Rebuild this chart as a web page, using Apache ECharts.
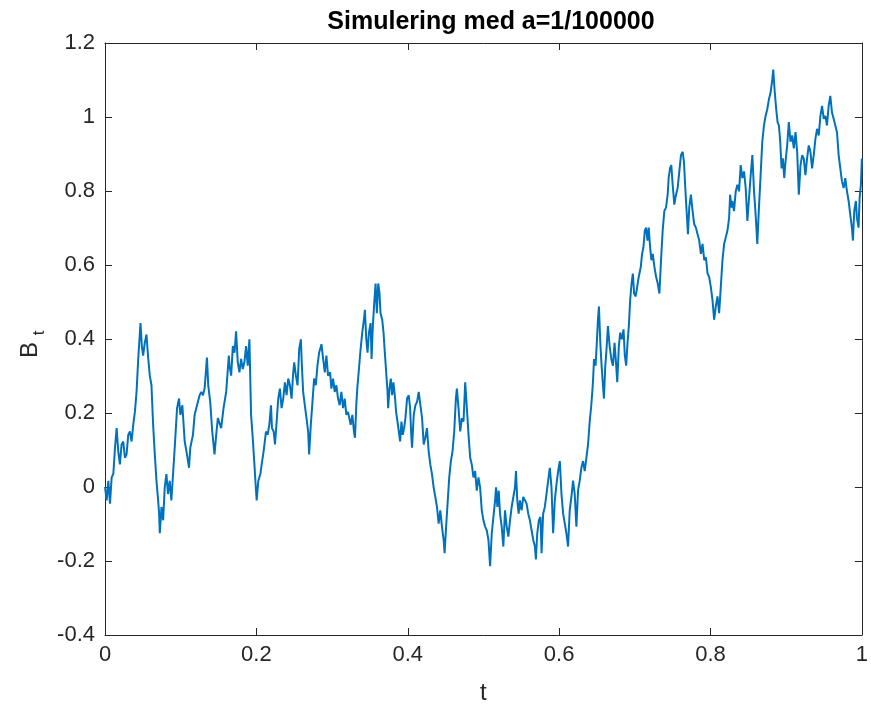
<!DOCTYPE html>
<html>
<head>
<meta charset="utf-8">
<script src="https://cdn.jsdelivr.net/npm/echarts@6/dist/echarts.min.js"></script>
<style>
html,body{margin:0;padding:0;background:#fff;}
#chart{width:871px;height:710px;}
</style>
</head>
<body>
<div id="chart"></div>
<script>
// Sample path (t, B_t)
const seg1 = [[0,0],[.0022,-.036],[.0044,.017],[.0066,-.045],[.0088,.026],[.011,.035],[.0132,.106],[.0154,.159],[.0175,.097],[.0197,.061],[.0219,.115],[.0241,.123],[.0263,.079],[.0285,.088],[.0307,.141],[.0329,.15],[.0351,.123],[.0373,.168],[.0395,.203],[.0417,.257],[.0439,.346],[.0469,.443],[.0487,.381],[.0504,.355],[.0526,.39],[.0548,.412],[.057,.35],[.0592,.301],[.0614,.275],[.0636,.168],[.0658,.088],[.068,.017],[.0702,-.036],[.0715,-.072],[.0724,-.125],[.0746,-.054],[.0768,-.09],[.0789,-.001],[.0811,.035],[.0833,-.019],[.0855,.017],[.0877,-.036],[.0899,.035],[.0921,.106],[.0952,.213],[.0978,.239],[.0996,.195],[.1022,.221],[.1053,.123],[.1083,.088],[.111,.052],[.1127,.106],[.1162,.141],[.1184,.195],[.1206,.213],[.125,.248],[.1272,.257],[.1294,.248],[.1316,.266],[.1329,.301],[.1347,.35],[.1364,.275],[.139,.23],[.1417,.15],[.1447,.088],[.1469,.141],[.1491,.186],[.1535,.159],[.1566,.213],[.1601,.257],[.1636,.355]];
const seg2 = [[.1645,.328],[.1667,.301],[.1689,.381],[.1711,.363],[.1732,.421],[.1754,.337],[.1776,.31],[.1798,.346],[.182,.319],[.1842,.337],[.1864,.381],[.1886,.328],[.1908,.399],[.193,.195],[.1952,.133],[.1974,.061],[.1987,.017],[.2004,-.036],[.2026,.017],[.2053,.035],[.207,.061],[.2096,.097],[.2127,.15],[.2149,.141],[.2171,.168],[.2193,.221],[.2206,.159],[.2228,.15],[.2246,.115],[.2268,.177],[.2289,.239],[.2311,.266],[.2333,.213],[.2355,.239],[.2377,.283],[.2399,.248],[.2421,.293],[.2443,.275],[.2465,.239],[.2487,.31],[.25,.337],[.2522,.301],[.2544,.275],[.2566,.373],[.2588,.399],[.2601,.328],[.2618,.257],[.264,.221],[.2662,.186],[.2684,.15],[.2697,.088],[.2719,.168],[.2741,.23],[.2763,.293],[.2785,.275],[.2807,.328],[.2829,.363],[.286,.386],[.2882,.346],[.2904,.31],[.2925,.355],[.2947,.301],[.2974,.31],[.2991,.266],[.3013,.293],[.3035,.257],[.3057,.275],[.3079,.239],[.3101,.221],[.3123,.257],[.3145,.213],[.3167,.239],[.3189,.195],[.3211,.203]];
const seg3 = [[.3246,.168],[.3268,.195],[.3289,.15],[.3303,.133],[.332,.221],[.3333,.266],[.3355,.319],[.3377,.373],[.3399,.417],[.3421,.453],[.3434,.479],[.3452,.399],[.3469,.363],[.3487,.417],[.3509,.443],[.3522,.346],[.3539,.435],[.3557,.497],[.3575,.55],[.3592,.47],[.361,.55],[.3627,.523],[.364,.47],[.3662,.453],[.368,.417],[.3697,.363],[.3715,.31],[.3733,.257],[.3741,.213],[.3759,.266],[.3776,.293],[.3794,.248],[.3811,.283],[.3829,.248],[.3846,.203],[.3864,.177],[.3882,.15],[.3899,.123],[.3917,.177],[.3934,.141],[.3952,.159],[.3969,.186],[.3991,.239],[.4013,.248],[.4031,.213],[.4048,.133],[.4057,.106],[.4079,.195],[.4101,.221],[.4123,.23],[.4145,.257],[.4167,.221],[.4189,.186],[.4211,.115],[.4232,.133],[.4254,.159],[.4276,.097],[.4298,.061],[.432,.035],[.4342,-.001],[.4364,-.027],[.4386,-.054],[.4408,-.099],[.443,-.063],[.4452,-.107],[.4474,-.143],[.4487,-.179],[.4504,-.117],[.4526,-.045],[.4548,.026],[.457,.07],[.4592,.097],[.4614,.15],[.4636,.239],[.4649,.266],[.4671,.213],[.4693,.15],[.4715,.186],[.4737,.177],[.4759,.283],[.4781,.213],[.4803,.141],[.4825,.079],[.4846,.061],[.4868,.026],[.489,.043],[.4912,-.01],[.4934,.026]];
const seg4 = [[.4956,-.001],[.4978,-.063],[.5,-.09],[.5022,-.107],[.5044,-.117],[.5066,-.143],[.5088,-.214],[.511,-.125],[.5132,-.081],[.5154,-.036],[.5167,-.001],[.5184,-.054],[.5202,-.01],[.5219,-.072],[.5241,-.107],[.5263,-.161],[.5285,-.063],[.5307,-.107],[.5329,-.134],[.5351,-.09],[.5373,-.054],[.5395,-.027],[.5417,-.001],[.543,.043],[.5447,-.036],[.5465,-.072],[.5482,-.036],[.5504,-.063],[.5526,-.027],[.5548,-.027],[.557,-.045],[.5592,-.072],[.5614,-.09],[.5636,-.117],[.5658,-.143],[.568,-.161],[.5693,-.196],[.5711,-.125],[.5732,-.09],[.5754,-.081],[.5768,-.179],[.5789,-.072],[.5811,-.054],[.5833,-.019],[.5855,.017],[.5877,.052],[.5899,-.001],[.5921,-.125],[.5943,-.036],[.5965,.008],[.5987,.043],[.6009,.07],[.6031,-.019],[.6053,-.072],[.6075,-.099],[.6096,-.125],[.6118,-.161],[.614,-.063],[.6162,-.027],[.6184,.017],[.6206,-.019],[.6228,-.107],[.625,-.01],[.6272,.017],[.6294,.052],[.6316,.07],[.6338,.043],[.636,.079],[.6382,.115],[.6404,.177],[.6425,.221],[.6447,.283]];
const seg5 = [[.6461,.346],[.6482,.328],[.65,.399],[.6513,.453],[.6526,.488],[.6544,.39],[.6561,.328],[.6579,.275],[.6592,.239],[.661,.328],[.6623,.363],[.6645,.435],[.6667,.381],[.6689,.346],[.6711,.328],[.6732,.39],[.6754,.328],[.6768,.283],[.6789,.381],[.6807,.417],[.6829,.399],[.6851,.426],[.6868,.355],[.6886,.328],[.6904,.39],[.6921,.435],[.6939,.506],[.6957,.55],[.6974,.577],[.6991,.523],[.7009,.515],[.7026,.533],[.7044,.559],[.7061,.577],[.7079,.595],[.7096,.63],[.7114,.648],[.7132,.693],[.7149,.701],[.7167,.666],[.7184,.701],[.7202,.648],[.7219,.613],[.7237,.63],[.7259,.595],[.7281,.568],[.7303,.55],[.7325,.523],[.7346,.613],[.7368,.693],[.739,.746],[.7412,.755],[.7434,.79],[.7447,.835],[.7465,.861],[.7482,.87],[.75,.817],[.7522,.763],[.7544,.79],[.7566,.808],[.7588,.853],[.761,.897],[.7632,.906],[.7649,.879],[.7667,.808],[.7684,.746],[.7702,.683],[.7719,.755],[.7741,.79],[.7763,.746],[.7785,.71],[.7807,.701],[.7829,.683],[.7851,.666],[.7873,.63],[.7895,.657],[.7917,.613],[.7939,.621],[.7961,.577],[.7982,.568],[.8004,.541],[.8026,.506],[.8048,.452],[.807,.488],[.8092,.515],[.8114,.47],[.8136,.541],[.8158,.613]];
const seg6 = [[.818,.657],[.8202,.675],[.8224,.693],[.8246,.728],[.8259,.79],[.8276,.755],[.8289,.773],[.8311,.746],[.8333,.799],[.8355,.817],[.8377,.799],[.8399,.87],[.8421,.835],[.8443,.853],[.8465,.808],[.8487,.719],[.8509,.781],[.8531,.843],[.8553,.897],[.8575,.799],[.8596,.737],[.8618,.657],[.864,.755],[.8662,.843],[.8684,.933],[.8706,.977],[.8728,1.003],[.875,1.021],[.8772,1.048],[.8794,1.066],[.8816,1.101],[.8829,1.128],[.8846,1.075],[.8868,1.021],[.8886,.986],[.8904,.977],[.8921,.933],[.8939,.861],[.8956,.888],[.8974,.835],[.8991,.879],[.9013,.923],[.9035,.986],[.9057,.933],[.9079,.95],[.9101,.915],[.9123,.959],[.9145,.906],[.9167,.79],[.9189,.87],[.9211,.897],[.9232,.888],[.9254,.843],[.9276,.888],[.9298,.923],[.932,.906],[.9342,.861],[.9364,.897],[.9386,.941],[.9408,.968],[.943,.95],[.9452,1.003],[.9474,1.03],[.9496,.995],[.9518,1.003],[.9539,.977],[.9561,1.03],[.9583,1.057],[.9605,1.012],[.9627,.995],[.9649,.977],[.9671,.959],[.9693,.897],[.9715,.861],[.9737,.826],[.9759,.808],[.9781,.835],[.9803,.799],[.9825,.773],[.9846,.737],[.9868,.701],[.9882,.666],[.9899,.746],[.9921,.773],[.9934,.728],[.9956,.701],[.997,.781],[.9987,.817],[1,.888]];

const titleText = 'Simulering med a=1/100000';
const xName = 't';
const xRange = [0, 1, 0.2];
const yRange = [-0.4, 1.2, 0.2];

const pathData = [].concat(seg1, seg2, seg3, seg4, seg5, seg6);

const FONT = '"Liberation Sans", Arial, Helvetica, sans-serif';
const AX = '#262626';
const fmt = v => String(Math.round(v * 10) / 10);

const chart = echarts.init(document.getElementById('chart'), null, {renderer: 'canvas'});

const hiddenAxisCommon = {
  axisLabel: {show: false},
  splitLine: {show: false},
  axisTick: {show: true, inside: true, length: 7, lineStyle: {color: AX, width: 1}},
  axisLine: {show: true, onZero: false, lineStyle: {color: AX, width: 1}}
};

chart.setOption({
  animation: false,
  backgroundColor: '#ffffff',
  title: {
    text: titleText,
    left: 486,
    top: 5,
    textAlign: 'center',
    textStyle: {fontFamily: FONT, fontSize: 25, fontWeight: 'bold', color: '#000'}
  },
  grid: {left: 105, right: 4, top: 43, bottom: 67, containLabel: false},
  xAxis: [{
    type: 'value', min: xRange[0], max: xRange[1], interval: xRange[2],
    position: 'bottom',
    name: xName, nameLocation: 'middle', nameGap: 46,
    nameTextStyle: {fontFamily: FONT, fontSize: 24, color: AX},
    axisLine: {show: true, onZero: false, lineStyle: {color: AX, width: 1}},
    axisTick: {show: true, inside: true, length: 7, lineStyle: {color: AX, width: 1}},
    axisLabel: {fontFamily: FONT, fontSize: 22, color: AX, margin: 9, formatter: fmt},
    splitLine: {show: false}
  }, Object.assign({
    type: 'value', min: xRange[0], max: xRange[1], interval: xRange[2], position: 'top'
  }, hiddenAxisCommon)],
  yAxis: [{
    type: 'value', min: yRange[0], max: yRange[1], interval: yRange[2],
    position: 'left',
    axisLine: {show: true, onZero: false, lineStyle: {color: AX, width: 1}},
    axisTick: {show: true, inside: true, length: 7, lineStyle: {color: AX, width: 1}},
    axisLabel: {fontFamily: FONT, fontSize: 22, color: AX, margin: 10, formatter: fmt},
    splitLine: {show: false}
  }, Object.assign({
    type: 'value', min: yRange[0], max: yRange[1], interval: yRange[2], position: 'right'
  }, hiddenAxisCommon)],
  graphic: [
    {type: 'text', x: 42, y: 350, rotation: Math.PI / 2,
     style: {text: 'B', font: '24px ' + FONT, fill: AX, align: 'center', verticalAlign: 'bottom'}},
    {type: 'text', x: 48, y: 333, rotation: Math.PI / 2,
     style: {text: 't', font: '17px ' + FONT, fill: AX, align: 'center', verticalAlign: 'bottom'}}
  ],
  series: [{
    type: 'line',
    xAxisIndex: 0, yAxisIndex: 0,
    data: pathData,
    showSymbol: false,
    symbol: 'none',
    lineStyle: {color: '#0072BD', width: 2},
    clip: true
  }]
});
</script>
</body>
</html>
